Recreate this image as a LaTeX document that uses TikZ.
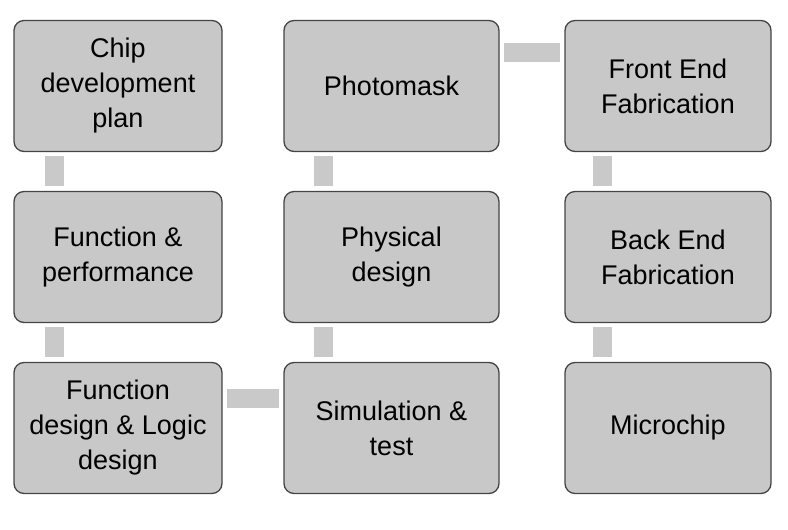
\documentclass[tikz,border=0pt]{standalone}
\usepackage{fontspec}
\setmainfont{Liberation Sans}
\usepackage{tikz}
\usetikzlibrary{positioning,calc}
\definecolor{boxC}{HTML}{C8C8C8}
\definecolor{edgeC}{HTML}{454545}
\definecolor{barC}{HTML}{C9C9C9}
\tikzset{
  stage/.style={rectangle, rounded corners=10pt, draw=edgeC, fill=boxC, line width=1.3pt,
                outer sep=0pt, inner sep=0pt, align=center, minimum width=#1, minimum height=131pt,
                font=\fontsize{27}{35}\selectfont},
  link/.style={draw=barC, line width=19pt, line cap=butt},
}

\begin{document}
\begin{tikzpicture}[x=1pt, y=1pt]
\useasboundingbox (0,0) rectangle (788,530);
% column 1
\node[stage=208pt] (b1) at (118,444) {Chip\\development\\plan};
\node[stage=208pt] (b2) at (118,273) {Function \&\\performance};
\node[stage=208pt] (b3) at (118,102) {Function\\design \& Logic\\design};
% column 2
\node[stage=215pt] (b4) at (391.5,102) {Simulation \&\\test};
\node[stage=215pt] (b5) at (391.5,273) {Physical\\design};
\node[stage=215pt] (b6) at (391.5,444) {Photomask};
% column 3
\node[stage=206pt] (b7) at (668,444) {Front End\\Fabrication};
\node[stage=206pt] (b8) at (668,273) {Back End\\Fabrication};
\node[stage=206pt] (b9) at (668,102) {Microchip};
% links
\draw[link] ([xshift=40.5pt,yshift=-5pt]b1.south west) -- ([xshift=40.5pt,yshift=5pt]b2.north west);
\draw[link] ([xshift=40.5pt,yshift=-5pt]b2.south west) -- ([xshift=40.5pt,yshift=5pt]b3.north west);
\draw[link] ([xshift=5pt,yshift=-36.5pt]b3.north east) -- ([xshift=-5pt,yshift=-36.5pt]b4.north west);
\draw[link] ([xshift=39.5pt,yshift=5pt]b4.north west) -- ([xshift=39.5pt,yshift=-5pt]b5.south west);
\draw[link] ([xshift=39.5pt,yshift=5pt]b5.north west) -- ([xshift=39.5pt,yshift=-5pt]b6.south west);
\draw[link] ([xshift=5pt,yshift=-32.5pt]b6.north east) -- ([xshift=-5pt,yshift=-32.5pt]b7.north west);
\draw[link] ([xshift=37.5pt,yshift=-5pt]b7.south west) -- ([xshift=37.5pt,yshift=5pt]b8.north west);
\draw[link] ([xshift=37.5pt,yshift=-5pt]b8.south west) -- ([xshift=37.5pt,yshift=5pt]b9.north west);
\end{tikzpicture}
\end{document}
